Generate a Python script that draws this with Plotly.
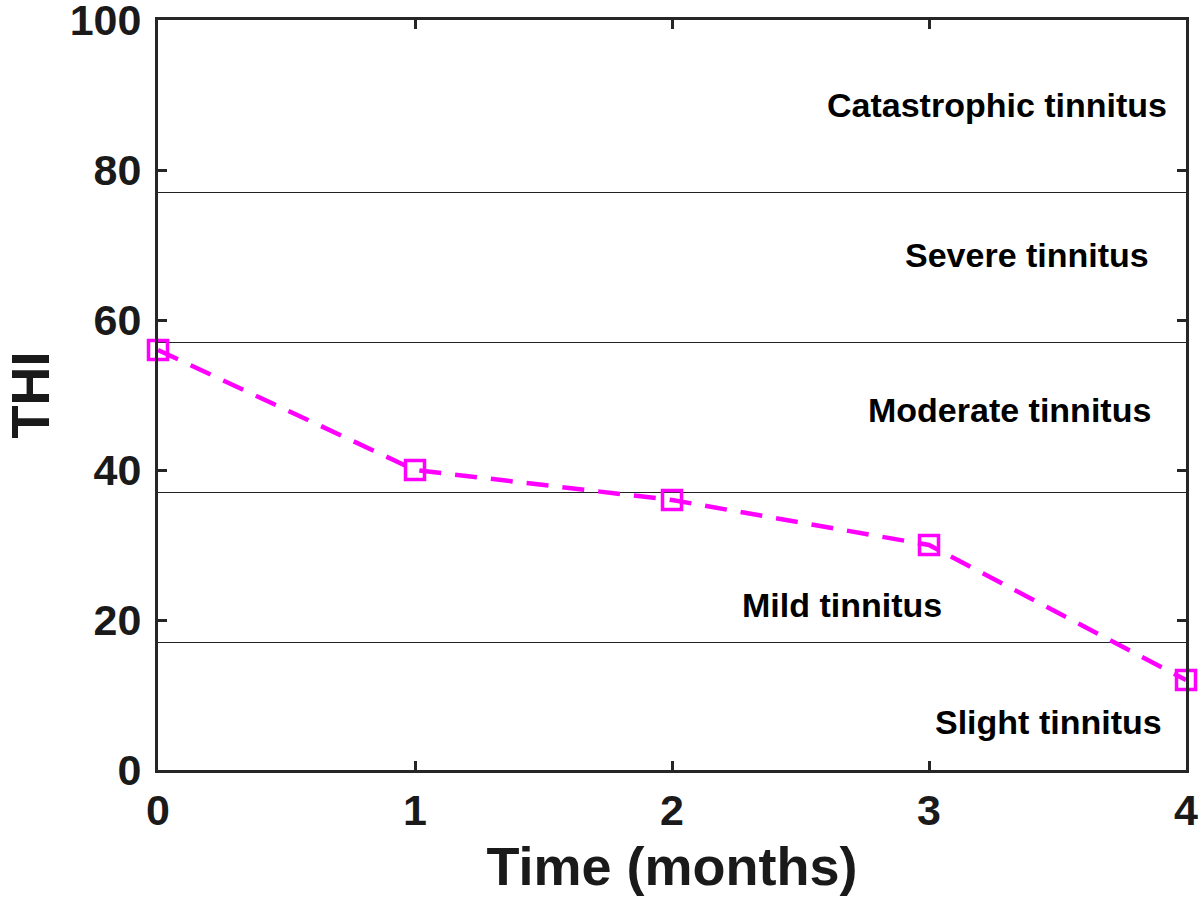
import plotly.graph_objects as go

months = [0, 1, 2, 3, 4]
thi = [56, 40, 36, 30, 12]
band_limits = [17, 37, 57, 77]
band_labels = ["Slight tinnitus", "Mild tinnitus", "Moderate tinnitus", "Severe tinnitus", "Catastrophic tinnitus"]
label_x = [3.465, 2.66, 3.315, 3.38, 3.265]
label_y = [6.4, 22, 48, 68.7, 88.7]
x_ticks = [0, 1, 2, 3, 4]
y_ticks = [0, 20, 40, 60, 80, 100]

FONT = "Liberation Sans"
fig = go.Figure()
for b in band_limits:
    fig.add_trace(go.Scatter(x=[0, 4], y=[b, b], mode="lines",
                             line=dict(color="#222222", width=1), hoverinfo="skip", showlegend=False))
fig.add_trace(go.Scatter(x=months, y=thi, mode="lines+markers",
                         line=dict(color="#ff00ff", width=4.5, dash="22px,14px"),
                         marker=dict(symbol="square-open", size=19, color="#ff00ff", line=dict(width=3.5)),
                         showlegend=False, cliponaxis=False))
for t, lx, ly in zip(band_labels, label_x, label_y):
    fig.add_annotation(x=lx, y=ly, text=t, showarrow=False,
                       font=dict(family=FONT, size=34, color="black", weight="bold"))

axis_common = dict(showline=True, linecolor="#262626", linewidth=3, mirror="ticks",
                   ticks="inside", ticklen=9, tickwidth=3, tickcolor="#262626",
                   showgrid=False, zeroline=False, automargin=False,
                   ticklabeloverflow="allow",
                   tickfont=dict(family=FONT, size=43, color="#1a1a1a", weight="bold"))
fig.update_xaxes(range=[0, 4], tickvals=x_ticks, **axis_common,
                 title=dict(text="Time (months)",
                            font=dict(family=FONT, size=54, color="#1a1a1a", weight="bold")))
fig.update_yaxes(range=[0, 100], tickvals=y_ticks, ticklabelstandoff=5, **axis_common,
                 title=dict(text="THI", standoff=30,
                            font=dict(family=FONT, size=54, color="#1a1a1a", weight="bold")))
fig.update_layout(width=1200, height=910, margin=dict(l=158, r=14, t=20, b=140, autoexpand=False),
                  plot_bgcolor="white", paper_bgcolor="white")
fig.write_html("out.html", config={"displayModeBar": False},
               post_script="document.body.style.margin='0';document.body.style.overflow='hidden';")
